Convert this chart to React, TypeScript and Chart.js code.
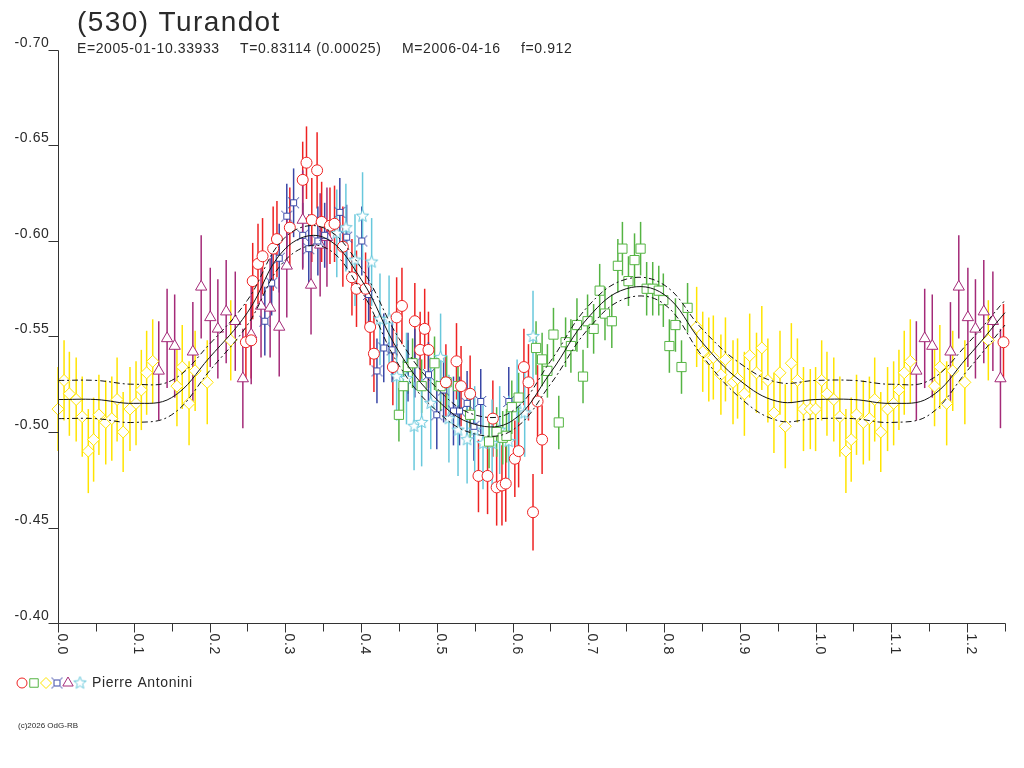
import { useEffect, useRef } from "react"
import { Chart, registerables } from "chart.js"
import { drawPoint } from "chart.js/helpers"

Chart.register(...registerables)

// Rotation phase ticks and magnitude ticks
const phaseMajor = [0, 0.1, 0.2, 0.3, 0.4, 0.5, 0.6, 0.7, 0.8, 0.9, 1.0, 1.1, 1.2]
const phaseMinor = [0.05, 0.15, 0.25, 0.35, 0.45, 0.55, 0.65, 0.75, 0.85, 0.95, 1.05, 1.15, 1.25]
const magTicks = [-0.7, -0.65, -0.6, -0.55, -0.5, -0.45, -0.4]

// Session 1 (red circles)
const redPhase = [0.248, 0.255, 0.257, 0.264, 0.27, 0.284, 0.289, 0.306, 0.323, 0.328, 0.342, 0.335, 0.348, 0.359, 0.365, 0.376, 0.388, 0.394, 0.406, 0.412, 0.417, 0.442, 0.447, 0.454, 0.471, 0.478, 0.484, 0.489, 0.512, 0.526, 0.532, 0.544, 0.555, 0.567, 0.574, 0.579, 0.586, 0.591, 0.603, 0.608, 0.615, 0.621, 0.627, 0.633, 0.639]
const redMag = [-0.547, -0.548, -0.579, -0.588, -0.592, -0.596, -0.601, -0.607, -0.632, -0.641, -0.637, -0.611, -0.61, -0.608, -0.609, -0.597, -0.581, -0.575, -0.575, -0.555, -0.541, -0.534, -0.56, -0.566, -0.558, -0.543, -0.554, -0.543, -0.526, -0.537, -0.524, -0.52, -0.477, -0.477, -0.507, -0.471, -0.472, -0.473, -0.486, -0.49, -0.534, -0.526, -0.458, -0.516, -0.496]
const redErr = [0.02, 0.02, 0.02, 0.021, 0.02, 0.022, 0.02, 0.021, 0.02, 0.019, 0.02, 0.022, 0.021, 0.02, 0.02, 0.021, 0.02, 0.02, 0.019, 0.02, 0.02, 0.02, 0.021, 0.02, 0.02, 0.02, 0.021, 0.02, 0.02, 0.02, 0.021, 0.02, 0.019, 0.02, 0.02, 0.02, 0.021, 0.02, 0.02, 0.019, 0.02, 0.02, 0.02, 0.019, 0.018]

// Session 2 (green squares)
const greenPhase = [0.45, 0.456, 0.462, 0.468, 0.48, 0.497, 0.505, 0.513, 0.528, 0.544, 0.569, 0.579, 0.587, 0.592, 0.599, 0.608, 0.631, 0.639, 0.646, 0.654, 0.661, 0.67, 0.677, 0.685, 0.693, 0.699, 0.707, 0.715, 0.722, 0.731, 0.739, 0.745, 0.753, 0.761, 0.769, 0.777, 0.785, 0.793, 0.799, 0.807, 0.815, 0.823, 0.831]
const greenMag = [-0.509, -0.524, -0.534, -0.536, -0.524, -0.536, -0.524, -0.526, -0.524, -0.509, -0.495, -0.5, -0.497, -0.498, -0.513, -0.518, -0.544, -0.538, -0.532, -0.551, -0.505, -0.547, -0.545, -0.556, -0.529, -0.558, -0.554, -0.574, -0.562, -0.558, -0.587, -0.596, -0.579, -0.59, -0.596, -0.575, -0.575, -0.574, -0.569, -0.545, -0.556, -0.534, -0.565]
const greenErr = [0.014, 0.014, 0.014, 0.013, 0.014, 0.014, 0.013, 0.014, 0.014, 0.014, 0.014, 0.013, 0.014, 0.014, 0.014, 0.013, 0.014, 0.014, 0.014, 0.014, 0.014, 0.013, 0.014, 0.014, 0.014, 0.014, 0.013, 0.014, 0.014, 0.014, 0.014, 0.014, 0.013, 0.014, 0.014, 0.014, 0.014, 0.013, 0.014, 0.014, 0.014, 0.014, 0.013]

// Session 3 (yellow diamonds)
const yellowPhase = [0.0, 0.008, 0.015, 0.024, 0.032, 0.04, 0.047, 0.054, 0.063, 0.071, 0.078, 0.086, 0.095, 0.103, 0.11, 0.117, 0.125, 0.157, 0.164, 0.173, 0.181, 0.197, 0.228, 0.843, 0.851, 0.859, 0.865, 0.875, 0.881, 0.891, 0.897, 0.906, 0.913, 0.922, 0.929, 0.937, 0.945, 0.953, 0.96, 0.968, 0.976, 0.984, 0.993]
const yellowMag = [-0.512, -0.527, -0.52, -0.517, -0.508, -0.49, -0.496, -0.509, -0.505, -0.507, -0.517, -0.5, -0.512, -0.515, -0.522, -0.531, -0.537, -0.524, -0.534, -0.515, -0.532, -0.526, -0.548, -0.555, -0.542, -0.538, -0.539, -0.53, -0.538, -0.526, -0.528, -0.52, -0.54, -0.531, -0.544, -0.527, -0.51, -0.531, -0.503, -0.536, -0.527, -0.512, -0.512]
const yellowErr = [0.022, 0.021, 0.022, 0.022, 0.021, 0.022, 0.022, 0.021, 0.022, 0.022, 0.022, 0.021, 0.022, 0.022, 0.021, 0.022, 0.022, 0.021, 0.022, 0.022, 0.021, 0.022, 0.021, 0.021, 0.021, 0.022, 0.022, 0.021, 0.022, 0.022, 0.021, 0.022, 0.022, 0.021, 0.022, 0.022, 0.021, 0.022, 0.022, 0.021, 0.022, 0.022, 0.021]

// Session 4 (blue)
const bluePhase = [0.273, 0.282, 0.292, 0.302, 0.311, 0.323, 0.331, 0.343, 0.352, 0.372, 0.381, 0.401, 0.41, 0.421, 0.43, 0.441, 0.462, 0.471, 0.489, 0.5, 0.509, 0.522, 0.53, 0.54, 0.549, 0.558, 0.595]
const blueMag = [-0.558, -0.578, -0.591, -0.613, -0.62, -0.603, -0.596, -0.6, -0.603, -0.615, -0.602, -0.6, -0.572, -0.532, -0.544, -0.543, -0.534, -0.536, -0.53, -0.509, -0.522, -0.511, -0.511, -0.515, -0.503, -0.516, -0.516]
const blueErr = [0.018, 0.017, 0.018, 0.017, 0.018, 0.017, 0.018, 0.018, 0.017, 0.018, 0.017, 0.018, 0.018, 0.017, 0.018, 0.017, 0.018, 0.018, 0.017, 0.018, 0.017, 0.018, 0.018, 0.017, 0.018, 0.017, 0.018]

// Session 5 (purple triangles)
const purplePhase = [0.133, 0.144, 0.154, 0.178, 0.189, 0.201, 0.211, 0.222, 0.234, 0.244, 0.255, 0.268, 0.28, 0.292, 0.302, 0.323, 0.334, 0.346, 0.355]
const purpleMag = [-0.532, -0.549, -0.545, -0.542, -0.576, -0.56, -0.554, -0.563, -0.558, -0.528, -0.551, -0.566, -0.565, -0.555, -0.587, -0.611, -0.577, -0.598, -0.602]
const purpleErr = [0.026, 0.026, 0.027, 0.026, 0.027, 0.026, 0.026, 0.027, 0.026, 0.026, 0.026, 0.027, 0.026, 0.026, 0.027, 0.026, 0.026, 0.027, 0.026]

// Session 6 (cyan stars)
const cyanPhase = [0.368, 0.38, 0.392, 0.402, 0.414, 0.425, 0.437, 0.447, 0.46, 0.47, 0.48, 0.492, 0.505, 0.516, 0.528, 0.54, 0.55, 0.561, 0.573, 0.583, 0.595, 0.606, 0.616, 0.627]
const cyanMag = [-0.604, -0.607, -0.59, -0.613, -0.589, -0.559, -0.559, -0.529, -0.528, -0.503, -0.505, -0.515, -0.539, -0.507, -0.501, -0.496, -0.501, -0.494, -0.494, -0.501, -0.495, -0.515, -0.51, -0.55]
const cyanErr = [0.023, 0.023, 0.024, 0.023, 0.023, 0.024, 0.023, 0.023, 0.024, 0.023, 0.023, 0.024, 0.023, 0.023, 0.024, 0.023, 0.023, 0.024, 0.023, 0.023, 0.024, 0.023, 0.023, 0.024]

// Fourier fit and its uncertainty envelope
const fitPhase = [0, 0.05, 0.1, 0.15, 0.2, 0.25, 0.3, 0.35, 0.4, 0.45, 0.5, 0.55, 0.6, 0.65, 0.7, 0.75, 0.8, 0.85, 0.9, 0.95]
const fitMid = [-0.517, -0.517, -0.515, -0.518, -0.539, -0.5625, -0.596, -0.602, -0.58, -0.542, -0.517, -0.504, -0.506, -0.531, -0.56, -0.575, -0.572, -0.547, -0.527, -0.516]
const fitUpper = [-0.527, -0.527, -0.525, -0.527, -0.546, -0.569, -0.602, -0.607, -0.586, -0.549, -0.523, -0.509, -0.511, -0.537, -0.566, -0.58, -0.577, -0.554, -0.536, -0.526]
const fitLower = [-0.507, -0.507, -0.505, -0.509, -0.532, -0.556, -0.59, -0.597, -0.574, -0.535, -0.511, -0.499, -0.501, -0.525, -0.554, -0.57, -0.567, -0.54, -0.518, -0.506]

const TEXT = "#2a2a2a"
const FONT = "'Liberation Sans', Arial, sans-serif"

type Pt = { x: number; y: number; e?: number }

// points with phase <= 0.25 are repeated one cycle later
function wrap(phase: number[], mag: number[], err?: number[]): Pt[] {
  const pts: Pt[] = phase.map((p, i) => ({ x: p, y: mag[i], e: err ? err[i] : undefined }))
  const extra = pts.filter((p) => p.x <= 0.25).map((p) => ({ ...p, x: p.x + 1 }))
  return pts.concat(extra)
}

function markerCanvas(kind: "blue" | "star", color: string) {
  const c = document.createElement("canvas")
  c.width = 15
  c.height = 15
  const g = c.getContext("2d")!
  g.translate(7.5, 7.5)
  g.strokeStyle = color
  g.fillStyle = "#fff"
  g.lineWidth = 1
  g.beginPath()
  if (kind === "blue") {
    g.rect(-3, -3, 6, 6)
    g.fill()
    g.stroke()
    g.beginPath()
    g.moveTo(-3, -3); g.lineTo(-5.5, -5.5)
    g.moveTo(3, -3); g.lineTo(5.5, -5.5)
    g.moveTo(3, 3); g.lineTo(5.5, 5.5)
    g.moveTo(-3, 3); g.lineTo(-5.5, 5.5)
    g.stroke()
  } else {
    for (let k = 0; k < 10; k++) {
      const r = k % 2 === 0 ? 6.5 : 2.8
      const a = -Math.PI / 2 + (k * Math.PI) / 5
      if (k === 0) g.moveTo(r * Math.cos(a), r * Math.sin(a))
      else g.lineTo(r * Math.cos(a), r * Math.sin(a))
    }
    g.closePath()
    g.fill()
    g.stroke()
  }
  return c
}

export default function App() {
  const chartRef = useRef<HTMLCanvasElement>(null)
  const chartInstance = useRef<Chart | null>(null)

  useEffect(() => {
    document.body.style.margin = "0"
    if (!chartRef.current) return
    if (chartInstance.current) chartInstance.current.destroy()
    const ctx = chartRef.current.getContext("2d")
    if (!ctx) return

    const series = [
      { color: "#ee2222", style: "circle" as any, radius: 5.5, pts: wrap(redPhase, redMag, redErr) },
      { color: "#55b443", style: "rect" as any, radius: 6.5, pts: wrap(greenPhase, greenMag, greenErr) },
      { color: "#ffe400", style: "rectRot" as any, radius: 6, pts: wrap(yellowPhase, yellowMag, yellowErr) },
      { color: "#3846a6", style: markerCanvas("blue", "#3846a6") as any, radius: 6, pts: wrap(bluePhase, blueMag, blueErr) },
      { color: "#a42a78", style: "triangle" as any, radius: 6.5, pts: wrap(purplePhase, purpleMag, purpleErr) },
      { color: "#68c8dc", style: markerCanvas("star", "#68c8dc") as any, radius: 6, pts: wrap(cyanPhase, cyanMag, cyanErr) },
    ]

    const fitLine = (vals: number[], dash: number[]) => ({
      data: wrap(fitPhase, vals),
      showLine: true,
      borderColor: "#111",
      borderWidth: 1,
      borderDash: dash,
      pointRadius: 0,
      tension: 0.4,
      order: 0,
      clip: false as any,
    })

    const errorBars = {
      id: "errorBars",
      beforeDatasetsDraw(chart: Chart) {
        const { ctx: c, scales } = chart
        const xs = scales.x
        const ys = scales.y
        c.save()
        c.lineWidth = 1.5
        series.forEach((s) => {
          c.strokeStyle = s.color
          s.pts.forEach((p) => {
            if (p.e === undefined) return
            const px = xs.getPixelForValue(p.x)
            c.beginPath()
            c.moveTo(px, ys.getPixelForValue(p.y - p.e))
            c.lineTo(px, ys.getPixelForValue(p.y + p.e))
            c.stroke()
          })
        })
        c.restore()
      },
    }

    const frame = {
      id: "frame",
      afterDraw(chart: Chart) {
        const { ctx: c, scales } = chart
        const xs = scales.x
        const ys = scales.y
        const left = Math.round(xs.getPixelForValue(0)) + 0.5
        const right = Math.round(xs.getPixelForValue(1.25)) + 0.5
        const top = Math.round(ys.getPixelForValue(-0.7)) + 0.5
        const bottom = Math.round(ys.getPixelForValue(-0.4)) + 0.5
        c.save()
        c.strokeStyle = "#333"
        c.lineWidth = 1
        c.beginPath()
        c.moveTo(left, top)
        c.lineTo(left, bottom)
        c.lineTo(right, bottom)
        magTicks.forEach((v) => {
          const py = Math.round(ys.getPixelForValue(v)) + 0.5
          c.moveTo(left - 10, py)
          c.lineTo(left, py)
        })
        phaseMajor.forEach((v) => {
          const px = Math.round(xs.getPixelForValue(v)) + 0.5
          c.moveTo(px, bottom)
          c.lineTo(px, bottom + 9)
        })
        phaseMinor.forEach((v) => {
          const px = Math.round(xs.getPixelForValue(v)) + 0.5
          c.moveTo(px, bottom)
          c.lineTo(px, bottom + 8)
        })
        c.stroke()

        c.fillStyle = TEXT
        ;(c as any).letterSpacing = "0.6px"
        c.font = `14px ${FONT}`
        c.textAlign = "right"
        c.textBaseline = "middle"
        magTicks.forEach((v) => {
          const py = ys.getPixelForValue(v)
          c.fillText(v.toFixed(2), left - 9, py - 7)
        })
        c.textAlign = "left"
        c.textBaseline = "alphabetic"
        phaseMajor.forEach((v) => {
          const px = Math.round(xs.getPixelForValue(v))
          c.save()
          c.translate(px, bottom + 10)
          c.rotate(Math.PI / 2)
          c.fillText(v.toFixed(1), 0, 0)
          c.restore()
        })

        // title and elements
        ;(c as any).letterSpacing = "1.4px"
        c.font = `28px ${FONT}`
        c.fillText("(530) Turandot", 77, 31)
        ;(c as any).letterSpacing = "0.6px"
        c.font = `14px ${FONT}`
        c.fillText("E=2005-01-10.33933", 77, 53)
        c.fillText("T=0.83114 (0.00025)", 240, 53)
        c.fillText("M=2006-04-16", 402, 53)
        c.fillText("f=0.912", 521, 53)

        // legend
        const lx = [22, 34, 46, 57, 68, 80]
        series.forEach((s, i) => {
          c.fillStyle = "#fff"
          c.strokeStyle = s.color
          c.lineWidth = 1
          drawPoint(c, { pointStyle: s.style, radius: s.radius - 0.5, rotation: 0, borderWidth: 1 } as any, lx[i], 683)
        })
        c.fillStyle = TEXT
        c.textBaseline = "middle"
        c.fillText("Pierre Antonini", 92, 683)
        ;(c as any).letterSpacing = "0px"
        c.font = `8px ${FONT}`
        c.fillText("(c)2026 OdG-RB", 18, 726)
        c.restore()
      },
    }

    chartInstance.current = new Chart(ctx, {
      type: "scatter",
      data: {
        datasets: [
          fitLine(fitMid, []),
          fitLine(fitUpper, [6, 3, 2, 3]),
          fitLine(fitLower, [6, 3, 2, 3]),
          ...series.map((s, i) => ({
            data: s.pts,
            pointStyle: s.style,
            pointRadius: s.radius,
            pointBorderWidth: 1,
            pointBorderColor: s.color,
            pointBackgroundColor: "#fff",
            showLine: false,
            order: 1 + i,
            clip: false as any,
          })),
        ],
      },
      options: {
        responsive: false,
        animation: false,
        events: [],
        layout: { padding: { left: 58, right: 19, top: 50, bottom: 145 } },
        scales: {
          x: { type: "linear", min: 0, max: 1.25, display: false },
          y: { type: "linear", min: -0.7, max: -0.4, reverse: true, display: false },
        },
        plugins: { legend: { display: false }, tooltip: { enabled: false } },
      },
      plugins: [errorBars, frame],
    })

    return () => {
      if (chartInstance.current) {
        chartInstance.current.destroy()
        chartInstance.current = null
      }
    }
  }, [])

  return (
    <div style={{ width: 1024, height: 768, background: "#fff" }}>
      <canvas ref={chartRef} width={1024} height={768} />
    </div>
  )
}
